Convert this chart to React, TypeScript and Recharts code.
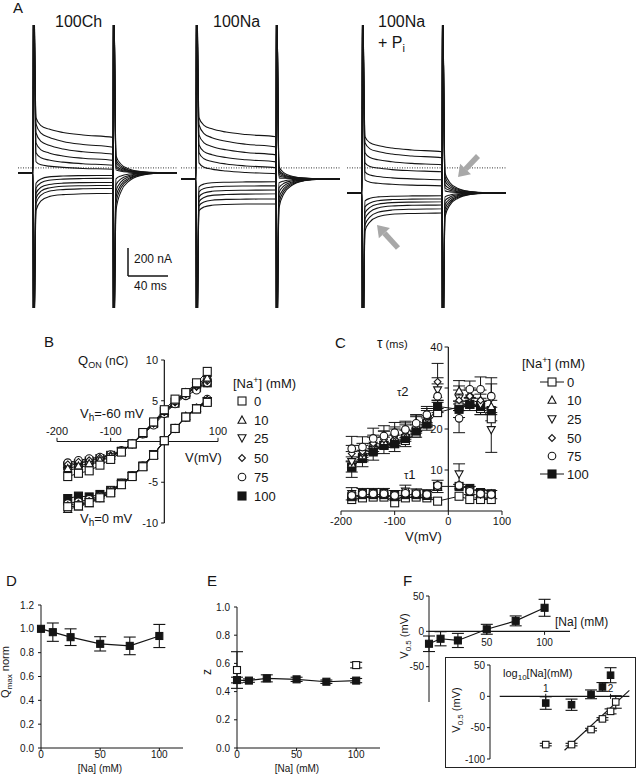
import React from "react"
import { LineChart, Line, XAxis, YAxis, ReferenceLine, ErrorBar } from "recharts"

const FONT = "'Liberation Sans', Arial, Helvetica, sans-serif"
const INK = "#151515"

// ---------- A: membrane current traces (nA) vs time (ms) ----------
const traceTimes = [-15, 0, 0.5, 3, 8, 16, 30, 50, 80, 80.5, 83, 88, 96, 108, 125, 144]

// holding current of each record, relative to the dotted zero line
const holdCh = -35
const holdNa = -78
const holdNaPi = -178

const tracesCh = [
	[0, 0, 1400, 393, 337, 312, 288, 270, 253, -1400, -268, -134, -59, -19, -3, 0],
	[0, 0, 1400, 350, 283, 253, 224, 202, 182, -1400, -214, -107, -47, -15, -2, 0],
	[0, 0, 1400, 286, 224, 197, 170, 150, 132, -1400, -171, -86, -38, -12, -2, 0],
	[0, 0, 1400, 214, 164, 142, 120, 104, 89, -1400, -129, -65, -28, -9, -1, 0],
	[0, 0, 1400, 143, 107, 91, 76, 65, 54, -1400, -86, -43, -19, -6, -1, 0],
	[0, 0, 1400, 79, 57, 48, 39, 31, 25, -1400, -43, -22, -9, -3, 0, 0],
	[0, 0, -1400, -268, -201, -170, -156, -150, -146, 1400, 121, 61, 27, 8, 1, 0],
	[0, 0, -1400, -218, -159, -132, -120, -114, -111, 1400, 93, 47, 20, 7, 1, 0],
	[0, 0, -1400, -182, -131, -108, -96, -92, -89, 1400, 71, 36, 16, 5, 1, 0],
	[0, 0, -1400, -146, -103, -84, -74, -70, -68, 1400, 50, 25, 11, 4, 0, 0],
	[0, 0, -1400, -111, -71, -53, -45, -41, -39, 1400, 36, 18, 8, 3, 0, 0],
	[0, 0, -1400, -75, -44, -29, -23, -20, -18, 1400, 21, 11, 5, 1, 0, 0],
]

const tracesNa = [
	[0, 0, 1400, 436, 382, 357, 334, 316, 300, -1400, -207, -104, -46, -14, -2, 0],
	[0, 0, 1400, 386, 323, 294, 268, 247, 228, -1400, -171, -86, -38, -12, -2, 0],
	[0, 0, 1400, 314, 257, 231, 207, 188, 171, -1400, -136, -68, -30, -10, -1, 0],
	[0, 0, 1400, 243, 194, 172, 152, 136, 121, -1400, -100, -50, -22, -7, -1, 0],
	[0, 0, 1400, 186, 143, 124, 106, 92, 79, -1400, -64, -32, -14, -4, -1, 0],
	[0, 0, 1400, 114, 83, 69, 56, 45, 36, -1400, -29, -15, -6, -2, 0, 0],
	[0, 0, -1400, -228, -201, -189, -183, -180, -179, 1400, 86, 43, 19, 6, 1, 0],
	[0, 0, -1400, -193, -166, -153, -147, -145, -143, 1400, 64, 32, 14, 4, 1, 0],
	[0, 0, -1400, -164, -133, -118, -112, -109, -107, 1400, 50, 25, 11, 4, 0, 0],
	[0, 0, -1400, -129, -102, -89, -83, -81, -79, 1400, 36, 18, 8, 3, 0, 0],
	[0, 0, -1400, -93, -69, -59, -53, -51, -50, 1400, 21, 11, 5, 1, 0, 0],
	[0, 0, -1400, -57, -37, -28, -24, -22, -21, 1400, 7, 4, 2, 0, 0, 0],
]

const tracesNaPi = [
	[0, 0, 1400, 400, 357, 338, 320, 306, 293, -1400, -171, -86, -38, -12, -2, 0],
	[0, 0, 1400, 357, 314, 295, 277, 263, 250, -1400, -143, -72, -31, -10, -1, 0],
	[0, 0, 1400, 286, 252, 236, 222, 210, 200, -1400, -114, -57, -25, -8, -1, 0],
	[0, 0, 1400, 214, 188, 177, 166, 158, 150, -1400, -86, -43, -19, -6, -1, 0],
	[0, 0, 1400, 150, 127, 117, 107, 100, 93, -1400, -57, -29, -13, -4, -1, 0],
	[0, 0, 1400, 93, 76, 68, 61, 55, 50, -1400, -29, -15, -6, -2, 0, 0],
	[0, 0, -1400, -271, -207, -171, -153, -147, -143, 1400, 143, 72, 31, 10, 1, 0],
	[0, 0, -1400, -228, -171, -139, -123, -117, -114, 1400, 114, 57, 25, 8, 1, 0],
	[0, 0, -1400, -186, -136, -108, -94, -89, -86, 1400, 86, 43, 19, 6, 1, 0],
	[0, 0, -1400, -143, -104, -81, -70, -66, -64, 1400, 57, 29, 13, 4, 1, 0],
	[0, 0, -1400, -100, -72, -56, -48, -45, -43, 1400, 36, 18, 8, 3, 0, 0],
	[0, 0, -1400, -57, -39, -29, -24, -22, -21, 1400, 14, 7, 3, 1, 0, 0],
]

// ---------- B: Q-V curves ----------
const naConc = [0, 10, 25, 50, 75, 100]
const qVolts = [-180, -160, -140, -120, -100, -80, -60, -40, -20, 0, 20, 40, 60, 80]
const qVhNeg60 = [
	[-4.3, -3.9, -3.6, -2.9, -2.2, -1.3, -0.3, 1.1, 2.4, 3.9, 5.2, 6.0, 7.2, 8.6],
	[-3.3, -3.0, -2.7, -2.3, -1.8, -1.2, -0.3, 1.0, 2.3, 3.7, 5.0, 6.0, 7.0, 7.8],
	[-3.6, -3.2, -2.9, -2.4, -1.9, -1.2, -0.3, 1.0, 2.3, 3.7, 4.9, 5.9, 6.8, 7.6],
	[-2.8, -2.5, -2.3, -2.0, -1.7, -1.2, -0.3, 1.0, 2.2, 3.6, 4.8, 5.8, 6.7, 7.4],
	[-2.6, -2.3, -2.1, -1.9, -1.6, -1.1, -0.3, 0.9, 2.0, 3.4, 4.6, 5.6, 6.3, 7.2],
	[-3.0, -2.7, -2.4, -2.1, -1.7, -1.2, -0.3, 1.0, 2.2, 3.5, 4.7, 5.8, 6.6, 7.2],
]
const qVh0 = [
	[-8.0, -7.9, -7.5, -6.9, -6.3, -5.3, -4.3, -3.1, -1.7, 0.1, 1.6, 3.0, 4.0, 4.8],
	[-8.3, -8.0, -7.6, -7.0, -6.3, -5.3, -4.3, -3.1, -1.7, 0.1, 1.6, 3.1, 4.1, 5.1],
	[-8.1, -7.8, -7.4, -6.9, -6.2, -5.2, -4.2, -3.0, -1.6, 0.1, 1.6, 3.0, 4.1, 5.0],
	[-7.8, -7.6, -7.3, -6.8, -6.1, -5.2, -4.2, -3.0, -1.6, 0.1, 1.6, 3.0, 4.0, 5.0],
	[-7.6, -7.4, -7.1, -6.7, -6.0, -5.1, -4.2, -3.0, -1.6, 0.1, 1.6, 3.0, 4.1, 5.2],
	[-7.0, -6.7, -6.8, -6.5, -6.0, -5.1, -4.2, -3.0, -1.6, 0.1, 1.6, 3.0, 4.0, 4.9],
]
const bXTicks = [-200, -100, 100]
const bYTicks = [-10, -5, 5, 10]

// ---------- C: time constants ----------
const tauVolts = [-180, -160, -140, -120, -100, -80, -60, -40, -20, 20, 40, 60, 80]
const tau2 = [
	[10.7, 13.1, 14.8, 16.0, 16.4, 17.2, 19.0, 21.4, 24.0, 25.4, 26.0, 25.0, 22.5],
	[11.5, 13.5, 16.5, 17.0, 18.0, 19.0, 21.0, 22.5, 28.5, 29.3, 28.5, 27.0, 25.5],
	[12.0, 14.0, 16.0, 17.5, 18.0, 19.0, 21.0, 22.5, 29.5, 27.5, 27.5, 26.0, 19.8],
	[14.0, 14.5, 16.5, 17.5, 18.5, 19.5, 21.5, 23.0, 31.5, 27.0, 28.0, 27.0, 27.5],
	[15.2, 15.6, 17.7, 18.3, 19.1, 19.9, 21.4, 23.5, 28.0, 22.6, 29.7, 29.7, 28.0],
	[10.7, 12.8, 14.4, 16.0, 16.5, 17.7, 19.5, 21.2, 25.5, 24.8, 26.0, 25.5, 24.5],
]
const tau2Err = [
	[0, 0, 0, 0, 0, 0, 0, 0, 0, 0, 0, 0, 0],
	[0, 0, 0, 0, 0, 0, 0, 0, 0, 2.5, 0, 0, 0],
	[2.5, 2.0, 2.0, 2.0, 2.0, 2.0, 2.0, 2.0, 3.0, 3.0, 2.0, 2.5, 5.5],
	[2.0, 2.0, 2.0, 2.0, 2.0, 2.0, 2.0, 2.0, 4.5, 2.5, 2.0, 2.5, 3.5],
	[3.0, 2.5, 2.5, 2.5, 2.5, 2.0, 2.0, 2.0, 3.0, 3.5, 2.0, 3.0, 4.5],
	[2.5, 2.0, 2.0, 2.0, 2.0, 2.0, 1.5, 1.5, 1.5, 2.0, 1.5, 2.0, 2.5],
]
const tau1 = [
	[2.8, 3.2, 3.4, 3.4, 2.0, 3.2, 3.4, 3.2, 2.4, 3.6, 2.8, 2.8, 2.8],
	[4.0, 4.4, 4.4, 4.4, 3.8, 4.6, 4.3, 4.0, 5.8, 6.2, 5.2, 4.0, 4.2],
	[4.2, 4.5, 4.5, 4.5, 4.0, 4.8, 4.4, 4.2, 6.0, 9.0, 5.0, 4.2, 4.0],
	[4.0, 4.3, 4.3, 4.3, 4.0, 4.5, 4.3, 4.1, 6.5, 6.5, 5.0, 4.0, 4.2],
	[3.8, 4.2, 4.2, 4.2, 3.8, 4.3, 4.2, 4.0, 6.2, 6.2, 4.8, 4.2, 4.0],
	[3.5, 4.0, 4.0, 4.0, 3.5, 4.0, 4.0, 3.8, 6.0, 6.0, 5.5, 4.5, 4.2],
]
const tau1Err = [1.5, 1.0, 1.0, 1.0, 1.0, 1.5, 1.0, 1.0, 1.5, 2.5, 1.0, 1.0, 1.0]
const cYTicks = [10, 20, 30, 40]
const cYLabels = [10, 20, 40]

// ---------- D, E, F ----------
const doseNa = [0, 10, 25, 50, 75, 100]
const qmaxNorm = [1.0, 0.972, 0.93, 0.874, 0.857, 0.94]
const qmaxErr = [0, 0.077, 0.07, 0.06, 0.074, 0.097]

const zValence = [0.482, 0.478, 0.494, 0.487, 0.47, 0.478]
const zErr = [0.02, 0.012, 0.025, 0.015, 0.012, 0.015]
const zOpenNa = [0, 100]
const zOpen = [0.553, 0.588]
const zOpenErr = [0.13, 0.02]

const vHalf = [-17.6, -10.5, -12.9, 2.9, 14.8, 33.3]
const vHalfErr = [11, 10, 10, 7, 7, 12]
const fXTicks = [50, 100]

const insetLogNa = [1, 1.398, 1.699, 1.875, 2]
const insetV = [-10.7, -13.4, 3.2, 15, 33.7]
const insetErr = [10, 9, 7, 7, 12]
const insetOpenLog = [1, 1.398, 1.699, 1.875, 2, 2.08]
const insetOpenV = [-77, -77, -53, -36, -24, -9]
const insetOpenErr = [2, 2, 2, 2, 4, 10]
const fitLog = [1.29, 2.29]
const fitV = [-86, 9.6]
const insetTicks = [1, 2]

type MarkKind = "sq" | "sqFill" | "tri" | "triDown" | "diamond" | "circle"
const naKinds: MarkKind[] = ["sq", "tri", "triDown", "diamond", "circle", "sqFill"]

const Marker = ({ kind, cx, cy, s }: { kind: MarkKind; cx: number; cy: number; s: number }) => {
	const h = s / 2
	const common = { stroke: INK, strokeWidth: 1.1 }
	if (kind === "sq" || kind === "sqFill")
		return <rect x={cx - h} y={cy - h} width={s} height={s} fill={kind === "sqFill" ? INK : "#fff"} {...common} />
	if (kind === "tri")
		return <polygon points={`${cx},${cy - h} ${cx + h},${cy + h * 0.8} ${cx - h},${cy + h * 0.8}`} fill="#fff" {...common} />
	if (kind === "triDown")
		return <polygon points={`${cx},${cy + h} ${cx + h},${cy - h * 0.8} ${cx - h},${cy - h * 0.8}`} fill="#fff" {...common} />
	if (kind === "diamond") {
		const d = h * 0.85
		return <polygon points={`${cx},${cy - d} ${cx + d},${cy} ${cx},${cy + d} ${cx - d},${cy}`} fill="#fff" {...common} />
	}
	return <circle cx={cx} cy={cy} r={h * 0.95} fill="#fff" {...common} />
}

const dotFor = (kind: MarkKind, s: number) => (p: any) => {
	if (p == null || p.cx == null || p.cy == null || p.value == null || Number.isNaN(p.cy))
		return <g key={`x${p?.index}`} />
	return (
		<g key={`m${p.index}`}>
			<Marker kind={kind} cx={p.cx} cy={p.cy} s={s} />
		</g>
	)
}

const traceRows = (traces: number[][], hold: number) =>
	traceTimes.map((t, i) => {
		const row: Record<string, number> = { t }
		traces.forEach((tr, j) => {
			row[`s${j}`] = tr[i] + hold
		})
		return row
	})

const TracePanel = ({ traces, hold, left, children }: { traces: number[][]; hold: number; left: number; children?: React.ReactNode }) => (
	<div style={{ position: "absolute", left, top: 25 }}>
		<LineChart width={159} height={283} data={traceRows(traces, hold)} margin={{ top: 0, right: 0, bottom: 0, left: 0 }}>
			<XAxis type="number" dataKey="t" domain={[-15, 144]} hide />
			<YAxis type="number" domain={[-1000, 1020]} hide allowDataOverflow />
			<ReferenceLine y={0} stroke="#333" strokeDasharray="1 1.5" />
			{traces.map((_, j) => (
				<Line key={j} type="monotone" dataKey={`s${j}`} stroke={INK} strokeWidth={1.1} dot={false} isAnimationActive={false} />
			))}
			{children}
		</LineChart>
	</div>
)

const Arrow = ({ x1, y1, x2, y2 }: { x1: number; y1: number; x2: number; y2: number }) => {
	const dx = x2 - x1
	const dy = y2 - y1
	const len = Math.hypot(dx, dy)
	const ux = dx / len
	const uy = dy / len
	const bx = x2 - ux * 11
	const by = y2 - uy * 11
	return (
		<g>
			<line x1={x1} y1={y1} x2={bx} y2={by} stroke="#a8a8a8" strokeWidth={5.5} />
			<polygon points={`${x2},${y2} ${bx - uy * 7.5},${by + ux * 7.5} ${bx + uy * 7.5},${by - ux * 7.5}`} fill="#a8a8a8" />
		</g>
	)
}

const tickLbl = (value: string, position: string, offset: number, fontSize: number) => ({ value, position, offset, fontSize, fill: INK })

export default function App() {
	const bRows = qVolts.map((v, i) => {
		const row: Record<string, number> = { v }
		naConc.forEach((_, j) => {
			row[`u${j}`] = qVhNeg60[j][i]
			row[`d${j}`] = qVh0[j][i]
		})
		return row
	})
	const cRows = tauVolts.map((v, i) => {
		const row: Record<string, number> = { v }
		naConc.forEach((_, j) => {
			row[`a${j}`] = tau2[j][i]
			row[`ea${j}`] = tau2Err[j][i]
			row[`b${j}`] = tau1[j][i]
		})
		row.eb = tau1Err[i]
		return row
	})
	const dRows = doseNa.map((na, i) => ({ na, q: qmaxNorm[i], err: qmaxErr[i] }))
	const eRows = doseNa.map((na, i) => ({ na, z: zValence[i], err: zErr[i] }))
	const eOpenRows = zOpenNa.map((na, i) => ({ na, z: zOpen[i], err: zOpenErr[i] }))
	const fRows = doseNa.map((na, i) => ({ na, v: vHalf[i], err: vHalfErr[i] }))
	const insetRows = insetLogNa.map((lx, i) => ({ lx, v: insetV[i], err: insetErr[i] }))
	const insetOpenRows = insetOpenLog.map((lx, i) => ({ lx, v: insetOpenV[i], err: insetOpenErr[i] }))
	const fitRows = fitLog.map((lx, i) => ({ lx, v: fitV[i] }))

	const bOrder = [5, 4, 3, 2, 1, 0]
	const cOrder = [0, 5, 1, 2, 3, 4]
	const smallTick = { fontSize: 10, fill: INK }
	const legendY = [401, 420, 438, 458, 477, 496]
	const legendCY = [382, 400, 419, 438, 456, 474]

	return (
		<div style={{ position: "absolute", left: 0, top: 0, width: 636, height: 774, background: "#fff", overflow: "hidden", fontFamily: FONT }}>
			{/* A */}
			<TracePanel traces={tracesCh} hold={holdCh} left={18}>
				<ReferenceLine segment={[{ x: 95, y: -571 }, { x: 95, y: -771 }]} stroke={INK} strokeWidth={1.5} />
				<ReferenceLine segment={[{ x: 95, y: -771 }, { x: 135, y: -771 }]} stroke={INK} strokeWidth={1.5} />
			</TracePanel>
			<TracePanel traces={tracesNa} hold={holdNa} left={181} />
			<TracePanel traces={tracesNaPi} hold={holdNaPi} left={347} />

			{/* B */}
			<div style={{ position: "absolute", left: 0, top: 330 }}>
				<LineChart width={310} height={200} data={bRows} margin={{ top: 30, right: 92, bottom: 7, left: 57 }}>
					<XAxis type="number" dataKey="v" domain={[-200, 100]} hide />
					<YAxis type="number" domain={[-10, 10]} hide />
					<ReferenceLine segment={[{ x: -200, y: 0 }, { x: 100, y: 0 }]} stroke={INK} strokeWidth={1.2} />
					<ReferenceLine segment={[{ x: 0, y: -10 }, { x: 0, y: 10 }]} stroke={INK} strokeWidth={1.2} />
					{bXTicks.map((t) => (
						<ReferenceLine key={`bx${t}`} segment={[{ x: t, y: 0 }, { x: t, y: 0.45 }]} stroke={INK} label={tickLbl(String(t), "top", 3, 11)} />
					))}
					{bYTicks.map((t) => (
						<ReferenceLine key={`by${t}`} segment={[{ x: -6, y: t }, { x: 0, y: t }]} stroke={INK} label={tickLbl(String(t), "left", 3, 11)} />
					))}
					{bOrder.map((j) => (
						<Line key={`u${j}`} dataKey={`u${j}`} stroke={INK} strokeWidth={1} dot={dotFor(naKinds[j], 8)} isAnimationActive={false} />
					))}
					{bOrder.map((j) => (
						<Line key={`d${j}`} dataKey={`d${j}`} stroke={INK} strokeWidth={1} dot={dotFor(naKinds[j], 8)} isAnimationActive={false} />
					))}
				</LineChart>
			</div>

			{/* C */}
			<div style={{ position: "absolute", left: 310, top: 330 }}>
				<LineChart width={326} height={215} data={cRows} margin={{ top: 17, right: 134, bottom: 0, left: 31 }}>
					<XAxis type="number" dataKey="v" domain={[-200, 100]} ticks={[-200, -100, 0, 100]} tickSize={4} height={34} tick={{ fontSize: 11, fill: INK }} stroke={INK} />
					<YAxis type="number" domain={[0, 40]} hide />
					<ReferenceLine segment={[{ x: 0, y: 0 }, { x: 0, y: 40 }]} stroke={INK} strokeWidth={1.2} />
					{cYTicks.map((t) => (
						<ReferenceLine
							key={`cy${t}`}
							segment={[{ x: -7, y: t }, { x: 0, y: t }]}
							stroke={INK}
							label={cYLabels.includes(t) ? tickLbl(String(t), "left", 2, 11) : undefined}
						/>
					))}
					{cOrder.map((j) => (
						<Line
							key={`a${j}`}
							dataKey={`a${j}`}
							stroke={j === 0 || j === 5 ? INK : "none"}
							strokeWidth={1}
							dot={dotFor(naKinds[j], 8)}
							isAnimationActive={false}>
							<ErrorBar dataKey={`ea${j}`} width={6} stroke={INK} strokeWidth={1} direction="y" />
						</Line>
					))}
					{cOrder.map((j) => (
						<Line
							key={`b${j}`}
							dataKey={`b${j}`}
							stroke={j === 0 || j === 5 ? INK : "none"}
							strokeWidth={1}
							dot={dotFor(naKinds[j], 8)}
							isAnimationActive={false}>
							{j === 2 && <ErrorBar dataKey="eb" width={6} stroke={INK} strokeWidth={1} direction="y" />}
						</Line>
					))}
				</LineChart>
			</div>

			{/* D */}
			<div style={{ position: "absolute", left: 0, top: 595 }}>
				<LineChart width={200} height={179} data={dRows} margin={{ top: 10, right: 17, bottom: 6, left: 0 }}>
					<XAxis type="number" dataKey="na" domain={[0, 120]} ticks={[0, 50, 100]} tickSize={3} tickMargin={0} height={20} tick={smallTick} stroke={INK} />
					<YAxis
						type="number"
						domain={[0, 1.2]}
						ticks={[0, 0.2, 0.4, 0.6, 0.8, 1.0, 1.2]}
						tickFormatter={(v: number) => v.toFixed(1)}
						width={41}
						tickSize={3}
						tickMargin={4}
						tick={smallTick}
						stroke={INK}
					/>
					<Line dataKey="q" stroke={INK} strokeWidth={1.2} dot={dotFor("sqFill", 7)} isAnimationActive={false}>
						<ErrorBar dataKey="err" width={6} stroke={INK} strokeWidth={1.1} direction="y" />
					</Line>
				</LineChart>
			</div>

			{/* E */}
			<div style={{ position: "absolute", left: 196, top: 597 }}>
				<LineChart width={200} height={177} data={eRows} margin={{ top: 10, right: 16, bottom: 6, left: 0 }}>
					<XAxis type="number" dataKey="na" domain={[0, 120]} ticks={[0, 50, 100]} tickSize={3} tickMargin={0} height={20} tick={smallTick} stroke={INK} />
					<YAxis
						type="number"
						domain={[0, 1]}
						ticks={[0, 0.2, 0.4, 0.6, 0.8, 1.0]}
						tickFormatter={(v: number) => v.toFixed(1)}
						width={41}
						tickSize={3}
						tickMargin={4}
						tick={smallTick}
						stroke={INK}
					/>
					<Line data={eOpenRows} dataKey="z" stroke="none" dot={dotFor("sq", 7)} isAnimationActive={false}>
						<ErrorBar dataKey="err" width={6} stroke={INK} strokeWidth={1.1} direction="y" />
					</Line>
					<Line dataKey="z" stroke={INK} strokeWidth={1.2} dot={dotFor("sqFill", 7)} isAnimationActive={false}>
						<ErrorBar dataKey="err" width={6} stroke={INK} strokeWidth={1.1} direction="y" />
					</Line>
				</LineChart>
			</div>

			{/* F main */}
			<div style={{ position: "absolute", left: 395, top: 586 }}>
				<LineChart width={180} height={120} data={fRows} margin={{ top: 10, right: 5, bottom: 4, left: 0 }}>
					<XAxis type="number" dataKey="na" domain={[0, 122]} hide />
					<YAxis type="number" domain={[-100, 50]} ticks={[-100, -50, 0, 50]} width={34} tickSize={3} tick={smallTick} stroke={INK} />
					<ReferenceLine segment={[{ x: 0, y: 0 }, { x: 122, y: 0 }]} stroke={INK} strokeWidth={1.2} />
					{fXTicks.map((t) => (
						<ReferenceLine key={`fx${t}`} segment={[{ x: t, y: 0 }, { x: t, y: -5 }]} stroke={INK} label={tickLbl(String(t), "bottom", 4, 10)} />
					))}
					<Line dataKey="v" stroke={INK} strokeWidth={1.2} dot={dotFor("sqFill", 7)} isAnimationActive={false}>
						<ErrorBar dataKey="err" width={6} stroke={INK} strokeWidth={1.1} direction="y" />
					</Line>
				</LineChart>
			</div>

			{/* F inset */}
			<div style={{ position: "absolute", left: 445, top: 657, width: 189, height: 109, border: "1.3px solid #222", background: "#fff" }} />
			<div style={{ position: "absolute", left: 446, top: 658 }}>
				<LineChart width={188} height={108} data={insetRows} margin={{ top: 7, right: 4, bottom: 7, left: 0 }}>
					<XAxis type="number" dataKey="lx" domain={[0.14, 2.3]} hide />
					<YAxis type="number" domain={[-100, 50]} ticks={[-100, -50, 0, 50]} width={44} tickSize={3} tick={smallTick} stroke={INK} />
					<ReferenceLine segment={[{ x: 0.29, y: 0 }, { x: 2.29, y: 0 }]} stroke={INK} strokeWidth={1.2} />
					{insetTicks.map((t) => (
						<ReferenceLine key={`ix${t}`} segment={[{ x: t, y: -4 }, { x: t, y: 4 }]} stroke={INK} label={tickLbl(String(t), "top", 2, 10)} />
					))}
					<Line data={fitRows} dataKey="v" stroke={INK} strokeWidth={1.1} dot={false} isAnimationActive={false} />
					<Line data={insetOpenRows} dataKey="v" stroke="none" dot={dotFor("sq", 6.5)} isAnimationActive={false}>
						<ErrorBar dataKey="err" width={6} stroke={INK} strokeWidth={1.1} direction="y" />
					</Line>
					<Line dataKey="v" stroke="none" dot={dotFor("sqFill", 6.5)} isAnimationActive={false}>
						<ErrorBar dataKey="err" width={6} stroke={INK} strokeWidth={1.1} direction="y" />
					</Line>
				</LineChart>
			</div>

			{/* text, legends and arrows */}
			<svg width={636} height={774} style={{ position: "absolute", left: 0, top: 0, pointerEvents: "none" }} fontFamily={FONT} fill={INK}>
				<text x={13} y={13} fontSize={15}>A</text>
				<text x={55} y={27} fontSize={16}>100Ch</text>
				<text x={213} y={27} fontSize={16}>100Na</text>
				<text x={378} y={27} fontSize={16}>100Na</text>
				<text x={378} y={48} fontSize={16}>
					+ P<tspan fontSize={11} dy={4}>i</tspan>
				</text>
				<text x={134} y={263} fontSize={12}>200 nA</text>
				<text x={134} y={290} fontSize={12}>40 ms</text>
				<Arrow x1={478} y1={156} x2={458} y2={177} />
				<Arrow x1={398} y1={248} x2={377} y2={225} />

				<text x={44} y={347} fontSize={15}>B</text>
				<text x={78} y={365} fontSize={13}>
					Q<tspan fontSize={9} dy={3}>ON</tspan>
					<tspan fontSize={12} dy={-3}> (nC)</tspan>
				</text>
				<text x={80} y={418} fontSize={13}>
					V<tspan fontSize={10} dy={3}>h</tspan>
					<tspan dy={-3}>=-60 mV</tspan>
				</text>
				<text x={80} y={523} fontSize={13}>
					V<tspan fontSize={10} dy={3}>h</tspan>
					<tspan dy={-3}>=0 mV</tspan>
				</text>
				<text x={185} y={462} fontSize={13}>V(mV)</text>
				<text x={233} y={388} fontSize={13}>
					[Na<tspan fontSize={9} dy={-5}>+</tspan>
					<tspan dy={5}>] (mM)</tspan>
				</text>
				{naConc.map((c, j) => (
					<g key={`lb${c}`}>
						<Marker kind={naKinds[j]} cx={242} cy={legendY[j]} s={8} />
						<text x={254} y={legendY[j] + 5} fontSize={13}>{c}</text>
					</g>
				))}

				<text x={335} y={348} fontSize={15}>C</text>
				<text x={377} y={348} fontSize={14}>
					τ<tspan fontSize={11}> (ms)</tspan>
				</text>
				<text x={397} y={396} fontSize={11}>
					τ<tspan fontSize={13}>2</tspan>
				</text>
				<text x={404} y={479} fontSize={11}>
					τ<tspan fontSize={13}>1</tspan>
				</text>
				<text x={405} y={541} fontSize={13}>V(mV)</text>
				<text x={522} y={368} fontSize={13}>
					[Na<tspan fontSize={9} dy={-5}>+</tspan>
					<tspan dy={5}>] (mM)</tspan>
				</text>
				{naConc.map((c, j) => (
					<g key={`lc${c}`}>
						{(j === 0 || j === 5) && <line x1={540} x2={564} y1={legendCY[j]} y2={legendCY[j]} stroke={INK} strokeWidth={1} />}
						<Marker kind={naKinds[j]} cx={552} cy={legendCY[j]} s={8} />
						<text x={567} y={legendCY[j] + 5} fontSize={13}>{c}</text>
					</g>
				))}

				<text x={6} y={586} fontSize={15}>D</text>
				<text x={9} y={672} fontSize={11} textAnchor="middle" transform="rotate(-90 9 672)">
					Q<tspan fontSize={8} dy={3}>max</tspan>
					<tspan dy={-3}> norm</tspan>
				</text>
				<text x={100} y={771.5} fontSize={10} textAnchor="middle">[Na] (mM)</text>

				<text x={207} y={586} fontSize={15}>E</text>
				<text x={211} y={672} fontSize={12} textAnchor="middle" transform="rotate(-90 211 672)">z</text>
				<text x={297} y={771.5} fontSize={10} textAnchor="middle">[Na] (mM)</text>

				<text x={403} y={586} fontSize={15}>F</text>
				<text x={408} y={636} fontSize={11} textAnchor="middle" transform="rotate(-90 408 636)">
					V<tspan fontSize={8} dy={3}>0.5</tspan>
					<tspan dy={-3}> (mV)</tspan>
				</text>
				<text x={555} y={626} fontSize={12}>[Na] (mM)</text>
				<text x={503} y={677} fontSize={11}>
					log<tspan fontSize={8} dy={3}>10</tspan>
					<tspan dy={-3}>[Na](mM)</tspan>
				</text>
				<text x={460} y={710} fontSize={11} textAnchor="middle" transform="rotate(-90 460 710)">
					V<tspan fontSize={8} dy={3}>0.5</tspan>
					<tspan dy={-3}> (mV)</tspan>
				</text>
			</svg>
		</div>
	)
}
